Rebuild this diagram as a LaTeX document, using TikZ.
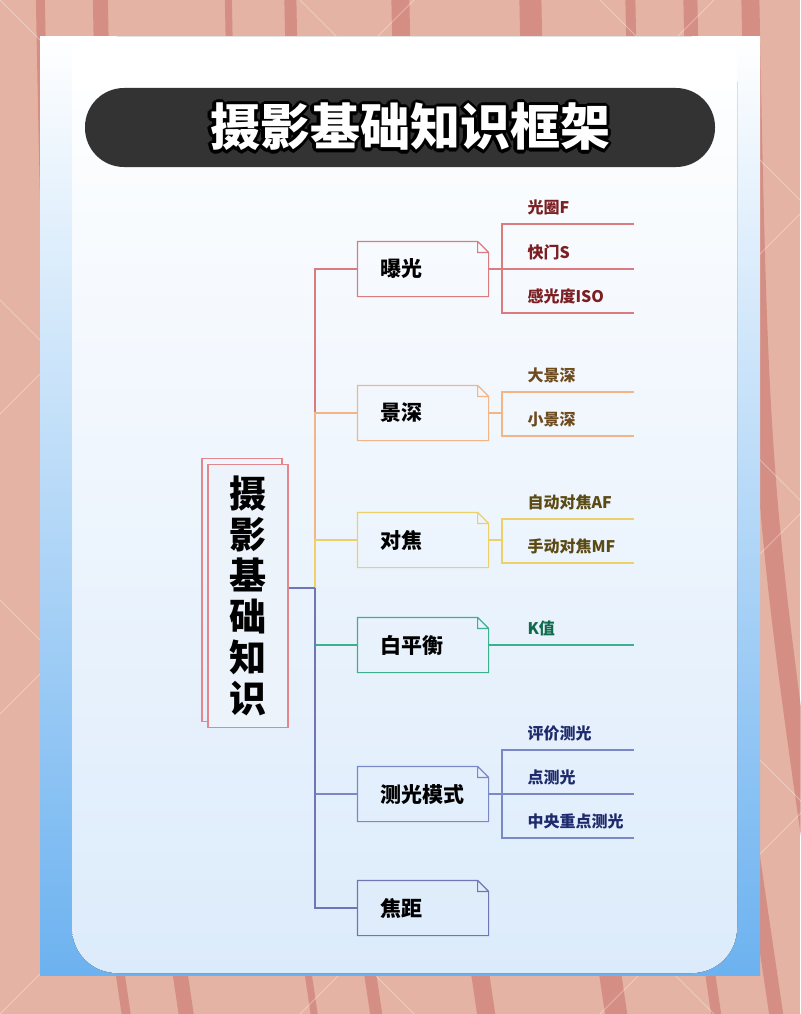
\documentclass[tikz,border=0pt]{standalone}
\usepackage{fontspec}
\setmainfont{Noto Sans CJK SC}
\usetikzlibrary{positioning}
\definecolor{bgSalmon}{HTML}{E4B3A3}
\definecolor{bgStripe}{HTML}{C9706C}
\definecolor{cardBlue}{HTML}{6CB2F0}
\definecolor{panelBot}{HTML}{DCEBFB}
\definecolor{rootFill}{HTML}{EDF3FB}
\definecolor{titleBar}{HTML}{333333}
\definecolor{cRoot}{HTML}{E3878D}
\definecolor{cRed}{HTML}{DA7B7F}
\definecolor{cOrange}{HTML}{F1B587}
\definecolor{cYellow}{HTML}{EDD068}
\definecolor{cGreen}{HTML}{3DB18E}
\definecolor{cMeter}{HTML}{7B88C6}
\definecolor{cFocal}{HTML}{6F76B6}
\definecolor{tRed}{HTML}{7B1F22}
\definecolor{tOrange}{HTML}{6E4B1F}
\definecolor{tYellow}{HTML}{5B4A14}
\definecolor{tGreen}{HTML}{0F6B4B}
\definecolor{tMeter}{HTML}{1E2A6B}
\tikzset{%
    branch/.style = {rectangle, minimum width=130pt, minimum height=54pt,
        inner xsep=22pt, text width=86pt, align=left,
        font=\fontsize{21}{25}\selectfont\bfseries},
    leaf/.style = {anchor=south west, inner xsep=0pt, text width=106pt,
        minimum height=32pt, align=left, text=#1,
        font=\fontsize{16}{19}\selectfont\bfseries},
    rootbox/.style = {draw=cRoot, line width=1.3pt, rectangle,
        minimum width=80pt, minimum height=263pt},
    titletext/.style = {font=\fontsize{50}{56}\selectfont\bfseries},
    stripe/.style = {bgStripe, opacity=0.55, line cap=round}
}

\begin{document}
\begin{tikzpicture}[x=1pt, y=-1pt, line width=1.2pt]
    \useasboundingbox (0,0) rectangle (800,1014);
    % background
    \fill[bgSalmon] (0,0) rectangle (800,1014);
    \foreach \x/\w in {40/9, 100/15, 228/7, 290/12, 400/18, 530/22, 630/10, 690/14, 750/18}
        \draw[stripe, line width=\w] (\x,-20) .. controls (\x+10,500) .. (\x+90,1040);
    \foreach \x in {-600,-300,...,900}
        \draw[white, opacity=0.35, line width=0.8pt] (\x,0) -- ++(1014,1014)
            (\x+1014,0) -- ++(-1014,1014);
    % card and panel
    \fill[top color=white, bottom color=cardBlue] (40,37) rectangle (760,975);
    \fill[top color=white, bottom color=panelBot, rounded corners=45pt] (72,37) rectangle (737,973);
    \fill[white] (72,37) rectangle (737,90);

    % title
    \fill[titleBar, rounded corners=39pt] (85,88) rectangle (715,167);
    \foreach \a [count=\i] in {0,30,...,330}
        \node[titletext, text=black, shift={(\a:3.2pt)}] (tout\i) at (410,127) {摄影基础知识框架};
    \node[titletext, text=white] (title) at (410,127) {摄影基础知识框架};

    % root
    \node[rootbox] (rootback) at (242,590) {};
    \node[rootbox, fill=rootFill, align=center,
        font=\fontsize{37}{41}\selectfont\bfseries] (root) at (248,596)
        {摄\\影\\基\\础\\知\\识};
    \coordinate (hub) at (315,588);

    % branches
    \node[branch] (b1) at (423,269) {曝光};
    \node[branch] (b2) at (423,413) {景深};
    \node[branch] (b3) at (423,540) {对焦};
    \node[branch] (b4) at (423,645) {白平衡};
    \node[branch] (b5) at (423,794) {测光模式};
    \node[branch] (b6) at (423,908) {焦距};

    % leaves
    \node[leaf=tRed] (l11) at (527,224) {光圈F};
    \node[leaf=tRed] (l12) at (527,269) {快门S};
    \node[leaf=tRed] (l13) at (527,313) {感光度ISO};
    \node[leaf=tOrange] (l21) at (527,392) {大景深};
    \node[leaf=tOrange] (l22) at (527,436) {小景深};
    \node[leaf=tYellow] (l31) at (527,519) {自动对焦AF};
    \node[leaf=tYellow] (l32) at (527,563) {手动对焦MF};
    \node[leaf=tGreen] (l41) at (527,645) {K值};
    \node[leaf=tMeter] (l51) at (527,750) {评价测光};
    \node[leaf=tMeter] (l52) at (527,794) {点测光};
    \node[leaf=tMeter] (l53) at (527,838) {中央重点测光};

    % trunk
    \foreach \b/\c in {b1/cRed, b2/cOrange, b3/cYellow, b4/cGreen, b5/cMeter, b6/cFocal}
        \draw[\c] (hub) |- (\b.west);
    \draw[cFocal] (root.east |- hub) -- (hub);

    % boxes with folded corner
    \foreach \n/\c in {b1/cRed, b2/cOrange, b3/cYellow, b4/cGreen, b5/cMeter, b6/cFocal}
        \draw[\c] (\n.south west) -- (\n.north west) -- ([xshift=-11pt]\n.north east)
            -- ([yshift=-11pt]\n.north east) -- (\n.south east) -- cycle
            ([xshift=-11pt]\n.north east) |- ([yshift=-11pt]\n.north east);

    % leaf lines
    \foreach \b/\l/\c in {b1/l11/cRed, b1/l12/cRed, b1/l13/cRed, b2/l21/cOrange, b2/l22/cOrange,
        b3/l31/cYellow, b3/l32/cYellow, b4/l41/cGreen, b5/l51/cMeter, b5/l52/cMeter, b5/l53/cMeter}
        \draw[\c] (\b.east) -| ([xshift=-25pt]\l.south west) -- (\l.south east);
\end{tikzpicture}
\end{document}
